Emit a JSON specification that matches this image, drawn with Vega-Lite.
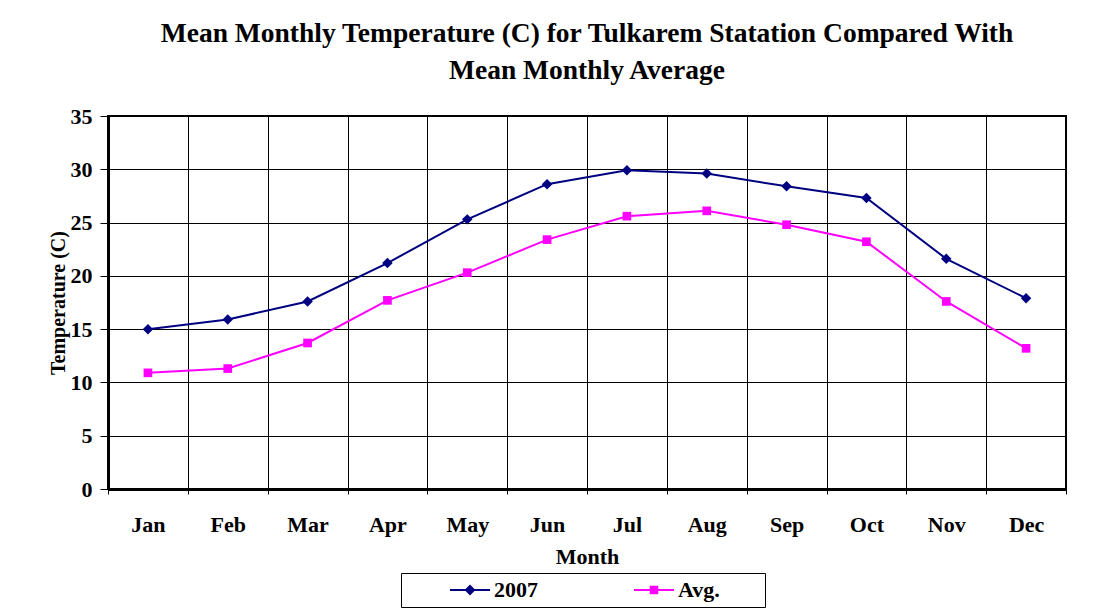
{
  "$schema": "https://vega.github.io/schema/vega-lite/v6.json",
  "width": 958,
  "height": 373,
  "autosize": {"type": "none"},
  "padding": {"left": 108, "top": 116, "right": 38, "bottom": 122},
  "background": "white",
  "config": {
    "font": "Liberation Serif",
    "view": {"stroke": "black", "strokeWidth": 2},
    "axis": {
      "labelFont": "Liberation Serif",
      "labelFontWeight": "bold",
      "labelFontSize": 22,
      "labelColor": "black",
      "titleFont": "Liberation Serif",
      "titleFontWeight": "bold",
      "titleColor": "black",
      "domainColor": "black",
      "domainWidth": 3,
      "tickColor": "black",
      "tickWidth": 1,
      "gridColor": "black",
      "gridWidth": 1,
      "gridOpacity": 1
    }
  },
  "title": {
    "text": ["Mean Monthly Temperature (C) for Tulkarem Statation Compared With", "Mean Monthly Average"],
    "font": "Liberation Serif",
    "fontSize": 27.5,
    "fontWeight": "bold",
    "color": "black",
    "anchor": "middle",
    "frame": "group",
    "baseline": "alphabetic",
    "lineHeight": 37,
    "offset": -1
  },
  "data": {
    "values": [
      {"month": "Jan", "series": "2007", "temp": 15.0},
      {"month": "Feb", "series": "2007", "temp": 15.9},
      {"month": "Mar", "series": "2007", "temp": 17.6},
      {"month": "Apr", "series": "2007", "temp": 21.2},
      {"month": "May", "series": "2007", "temp": 25.3},
      {"month": "Jun", "series": "2007", "temp": 28.6},
      {"month": "Jul", "series": "2007", "temp": 29.9},
      {"month": "Aug", "series": "2007", "temp": 29.6},
      {"month": "Sep", "series": "2007", "temp": 28.4},
      {"month": "Oct", "series": "2007", "temp": 27.3},
      {"month": "Nov", "series": "2007", "temp": 21.6},
      {"month": "Dec", "series": "2007", "temp": 17.9},
      {"month": "Jan", "series": "Avg.", "temp": 10.9},
      {"month": "Feb", "series": "Avg.", "temp": 11.3},
      {"month": "Mar", "series": "Avg.", "temp": 13.7},
      {"month": "Apr", "series": "Avg.", "temp": 17.7},
      {"month": "May", "series": "Avg.", "temp": 20.3},
      {"month": "Jun", "series": "Avg.", "temp": 23.4},
      {"month": "Jul", "series": "Avg.", "temp": 25.6},
      {"month": "Aug", "series": "Avg.", "temp": 26.1},
      {"month": "Sep", "series": "Avg.", "temp": 24.8},
      {"month": "Oct", "series": "Avg.", "temp": 23.2},
      {"month": "Nov", "series": "Avg.", "temp": 17.6},
      {"month": "Dec", "series": "Avg.", "temp": 13.2}
    ]
  },
  "encoding": {
    "x": {
      "field": "month",
      "type": "nominal",
      "sort": ["Jan", "Feb", "Mar", "Apr", "May", "Jun", "Jul", "Aug", "Sep", "Oct", "Nov", "Dec"],
      "scale": {"type": "band", "paddingInner": 0, "paddingOuter": 0},
      "axis": {
        "title": "Month",
        "titleFontSize": 22,
        "titlePadding": 11,
        "labelAngle": 0,
        "tickBand": "extent",
        "grid": true,
        "tickSize": 5,
        "labelPadding": 20
      }
    },
    "y": {
      "field": "temp",
      "type": "quantitative",
      "scale": {"domain": [0, 35], "nice": false},
      "axis": {
        "title": "Temperature (C)",
        "titleFontSize": 20,
        "titlePadding": 2,
        "values": [0, 5, 10, 15, 20, 25, 30, 35],
        "grid": true,
        "tickSize": 8,
        "labelPadding": 8
      }
    },
    "color": {
      "field": "series",
      "type": "nominal",
      "scale": {"domain": ["2007", "Avg."], "range": ["#000080", "#FF00FF"]},
      "legend": {
        "orient": "none",
        "legendX": 293,
        "legendY": 457,
        "direction": "horizontal",
        "title": null,
        "strokeColor": "black",
        "fillColor": "white",
        "padding": 6,
        "labelFont": "Liberation Serif",
        "labelFontWeight": "bold",
        "labelFontSize": 22,
        "labelColor": "black",
        "symbolSize": 100,
        "symbolStrokeWidth": 2,
        "symbolOffset": 52,
        "labelOffset": 13,
        "columnPadding": 53,
        "labelExpr": "datum.label === 'Avg.' ? 'Avg.\u00a0\u00a0\u00a0\u00a0\u00a0\u00a0\u00a0\u200b' : datum.label",
        "encode": {
          "symbols": {
            "update": {
              "shape": {"signal": "datum.value === '2007' ? 'M-4,0H4M-0.8,0L0,-0.8L0.8,0L0,0.8Z' : 'M-4,0H4M-0.65,-0.65H0.65V0.65H-0.65Z'"},
              "fill": {"signal": "scale('color', datum.value)"},
              "stroke": {"signal": "scale('color', datum.value)"}
            }
          }
        }
      }
    }
  },
  "layer": [
    {
      "mark": {"type": "line", "strokeWidth": 2}
    },
    {
      "mark": {"type": "point", "filled": true, "opacity": 1},
      "encoding": {
        "shape": {"condition": {"test": "datum.series === 'Avg.'", "value": "square"}, "value": "diamond"},
        "size": {"condition": {"test": "datum.series === 'Avg.'", "value": 75}, "value": 110}
      }
    }
  ]
}
